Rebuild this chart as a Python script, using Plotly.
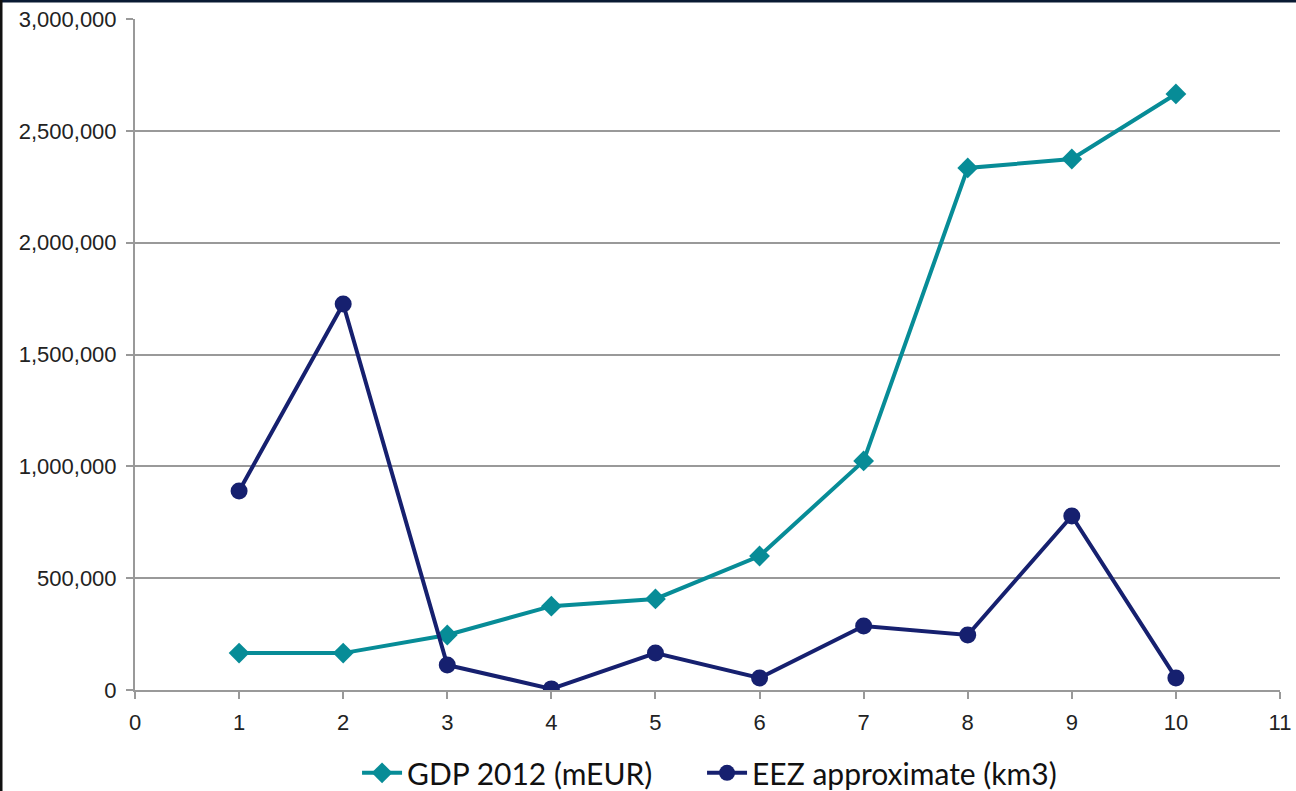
import plotly.graph_objects as go

x_vals = [1, 2, 3, 4, 5, 6, 7, 8, 9, 10]
gdp_2012 = [165000, 165000, 246000, 375000, 407000, 599000, 1024000, 2334000, 2374000, 2665000]
eez_km3 = [890000, 1726000, 112000, 5000, 165000, 54000, 286000, 246000, 778000, 54000]
series_names = ["GDP 2012 (mEUR)", "EEZ approximate (km3)"]
y_ticks = [0, 500000, 1000000, 1500000, 2000000, 2500000, 3000000]
x_ticks = list(range(0, 12))

teal = "#078C97"
navy = "#16206F"

fig = go.Figure()
fig.add_trace(go.Scatter(
    x=x_vals, y=gdp_2012, name=series_names[0], mode="lines+markers",
    line=dict(color=teal, width=4),
    marker=dict(symbol="diamond", size=16, color=teal),
    legend="legend",
))
fig.add_trace(go.Scatter(
    x=x_vals, y=eez_km3, name=series_names[1], mode="lines+markers",
    line=dict(color=navy, width=4),
    marker=dict(symbol="circle", size=17, color=navy),
    legend="legend2",
))

legend_common = dict(
    orientation="h", xref="container", yref="container",
    xanchor="left", y=0.023, yanchor="middle",
    font=dict(family="Lato, sans-serif", size=30, color="#111111"),
    itemwidth=40, bgcolor="rgba(0,0,0,0)",
)

fig.update_layout(
    width=1296, height=791,
    margin=dict(l=135, r=16, t=19, b=101),
    paper_bgcolor="white", plot_bgcolor="white",
    font=dict(family="Liberation Sans, Arial, sans-serif", size=22, color="#222222"),
    showlegend=True,
    legend=dict(x=0.2755, **legend_common),
    legend2=dict(x=0.5417, **legend_common),
    xaxis=dict(
        range=[0, 11], tickmode="array", tickvals=x_ticks,
        showgrid=False, zeroline=False, automargin=False,
        showline=True, linecolor="#999999", linewidth=2,
        ticks="outside", ticklen=7, tickcolor="#999999", tickwidth=2,
        tickfont=dict(size=22), ticklabelstandoff=5,
    ),
    yaxis=dict(
        range=[0, 3000000], tickmode="array", tickvals=y_ticks,
        tickformat=",d", automargin=False,
        showgrid=True, gridcolor="#999999", gridwidth=1.5,
        zeroline=False,
        showline=True, linecolor="#999999", linewidth=2,
        ticks="outside", ticklen=7, tickcolor="#999999", tickwidth=2,
        tickfont=dict(size=22), ticklabelstandoff=5,
    ),
    shapes=[
        dict(type="line", xref="paper", yref="paper", x0=-135/1145, x1=1+16/1145,
             y0=1+19/671 - 1/671, y1=1+19/671 - 1/671, line=dict(color="#0A1A33", width=3)),
        dict(type="line", xref="paper", yref="paper", x0=-135/1145 + 1/1145, x1=-135/1145 + 1/1145,
             y0=-101/671, y1=1+19/671, line=dict(color="#111111", width=3)),
    ],
)

fig.write_html(
    "out.html",
    config={"displayModeBar": False},
    post_script="document.body.style.margin='0';document.body.style.overflow='hidden';",
)
